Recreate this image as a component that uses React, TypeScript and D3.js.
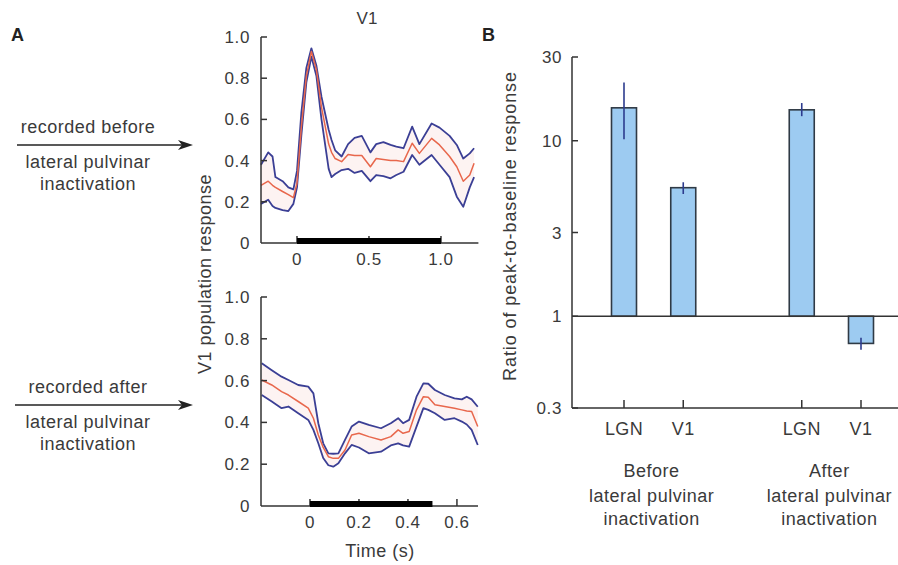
import React from "react";
import * as d3 from "d3";

// ---------- Panel A (top): before inactivation ----------
const topTime = [-0.25, -0.2, -0.17, -0.15, -0.1, -0.06, -0.025, 0, 0.03, 0.065, 0.1, 0.135, 0.17, 0.22, 0.24, 0.265, 0.31, 0.355, 0.4, 0.45, 0.51, 0.55, 0.6, 0.65, 0.69, 0.74, 0.8, 0.85, 0.935, 0.99, 1.06, 1.11, 1.155, 1.2, 1.23];
const topUpper = [0.38, 0.44, 0.42, 0.32, 0.3, 0.27, 0.26, 0.35, 0.63, 0.85, 0.945, 0.86, 0.71, 0.55, 0.5, 0.45, 0.42, 0.48, 0.51, 0.52, 0.44, 0.48, 0.49, 0.476, 0.468, 0.46, 0.565, 0.48, 0.58, 0.56, 0.52, 0.476, 0.41, 0.435, 0.46];
const topMean = [0.28, 0.3, 0.28, 0.27, 0.25, 0.235, 0.22, 0.29, 0.56, 0.81, 0.93, 0.84, 0.66, 0.48, 0.44, 0.41, 0.395, 0.43, 0.425, 0.425, 0.37, 0.41, 0.405, 0.4, 0.4, 0.395, 0.484, 0.435, 0.508, 0.476, 0.42, 0.37, 0.3, 0.33, 0.387];
const topLower = [0.19, 0.21, 0.18, 0.17, 0.16, 0.155, 0.19, 0.27, 0.52, 0.78, 0.905, 0.81, 0.6, 0.36, 0.32, 0.335, 0.354, 0.36, 0.34, 0.35, 0.3, 0.33, 0.325, 0.314, 0.33, 0.346, 0.427, 0.38, 0.427, 0.38, 0.32, 0.225, 0.176, 0.27, 0.32];

// ---------- Panel A (bottom): after inactivation ----------
const botTime = [-0.197, -0.156, -0.116, -0.088, -0.048, -0.007, 0.014, 0.034, 0.054, 0.075, 0.095, 0.116, 0.143, 0.17, 0.2, 0.24, 0.29, 0.33, 0.36, 0.38, 0.405, 0.435, 0.463, 0.483, 0.51, 0.55, 0.59, 0.62, 0.64, 0.66, 0.685];
const botUpper = [0.683, 0.65, 0.619, 0.603, 0.579, 0.571, 0.539, 0.396, 0.3, 0.252, 0.25, 0.252, 0.316, 0.38, 0.404, 0.388, 0.372, 0.396, 0.42, 0.396, 0.412, 0.523, 0.587, 0.585, 0.555, 0.531, 0.515, 0.51, 0.523, 0.51, 0.475];
const botMean = [0.603, 0.579, 0.547, 0.531, 0.5, 0.468, 0.42, 0.34, 0.28, 0.236, 0.228, 0.228, 0.268, 0.34, 0.348, 0.332, 0.316, 0.332, 0.364, 0.348, 0.356, 0.46, 0.523, 0.52, 0.484, 0.476, 0.468, 0.46, 0.455, 0.452, 0.38];
const botLower = [0.531, 0.5, 0.468, 0.476, 0.444, 0.412, 0.364, 0.3, 0.23, 0.195, 0.188, 0.204, 0.252, 0.292, 0.28, 0.252, 0.26, 0.29, 0.3, 0.29, 0.284, 0.38, 0.468, 0.46, 0.444, 0.412, 0.42, 0.404, 0.39, 0.364, 0.292];

const yTicksA = [0, 0.2, 0.4, 0.6, 0.8, 1.0];
const topXTicks = [0, 0.5, 1.0];
const botXTicks = [0, 0.2, 0.4, 0.6];
const topStim = [0, 1.0];
const botStim = [0, 0.5];

// ---------- Panel B ----------
const categories = ["LGN", "V1", "LGN", "V1"];
const groupLabels = ["Before", "After"];
const ratio = [15.4, 5.4, 15.0, 0.7];
const errLow = [10.2, 4.97, 13.8, 0.645];
const errHigh = [21.5, 5.8, 16.4, 0.755];
const logTicks = [0.3, 1, 3, 10, 30];

const FONT = "'Liberation Sans', Arial, Helvetica, sans-serif";
const TXT = "#3a3a3a";
const AX = "#333";
const BLUE = "#3b3f95";
const RED = "#e8674c";

function fmtA(v: number) {
  return v === 0 ? "0" : v.toFixed(1);
}

type PanelProps = {
  time: number[];
  upper: number[];
  mean: number[];
  lower: number[];
  x: d3.ScaleLinear<number, number>;
  y: d3.ScaleLinear<number, number>;
  xTicks: number[];
  stim: number[];
  xFmt: (v: number) => string;
};

function TracePanel({ time, upper, mean, lower, x, y, xTicks, stim, xFmt }: PanelProps) {
  const [x0, x1] = x.range();
  const [y0, y1] = y.range();
  const idx = time.map((_, i) => i);
  const area = d3
    .area<number>()
    .x((i) => x(time[i]))
    .y0((i) => y(lower[i]))
    .y1((i) => y(upper[i]));
  const line = (vals: number[]) =>
    d3
      .line<number>()
      .x((i) => x(time[i]))
      .y((i) => y(vals[i]))(idx) || "";
  return (
    <g>
      <path d={area(idx) || ""} fill="rgba(240,160,150,0.12)" />
      <path d={line(upper)} fill="none" stroke={BLUE} strokeWidth={1.8} strokeLinejoin="round" />
      <path d={line(lower)} fill="none" stroke={BLUE} strokeWidth={1.8} strokeLinejoin="round" />
      <path d={line(mean)} fill="none" stroke={RED} strokeWidth={1.5} strokeLinejoin="round" />
      {/* axes */}
      <line x1={x0} x2={x0} y1={y0} y2={y1} stroke={AX} strokeWidth={1.5} />
      <line x1={x0} x2={x1} y1={y0} y2={y0} stroke={AX} strokeWidth={1.5} />
      {yTicksA.map((v) => (
        <g key={"y" + v}>
          {v > 0 && <line x1={x0} x2={x0 + 6} y1={y(v)} y2={y(v)} stroke={AX} strokeWidth={1.5} />}
          <text x={x0 - 11} y={y(v) + 6} textAnchor="end" fontSize={17} fill={TXT} letterSpacing={0.6}>
            {fmtA(v)}
          </text>
        </g>
      ))}
      {xTicks.map((v) => (
        <g key={"x" + v}>
          <line x1={x(v)} x2={x(v)} y1={y0} y2={y0 - 7} stroke={AX} strokeWidth={1.5} />
          <text x={x(v)} y={y0 + 22} textAnchor="middle" fontSize={17} fill={TXT} letterSpacing={0.6}>
            {xFmt(v)}
          </text>
        </g>
      ))}
      <rect x={x(stim[0])} y={y0 - 5} width={x(stim[1]) - x(stim[0])} height={6} fill="#000" />
    </g>
  );
}

function Arrow({ y, x0, x1, top, bottom }: { y: number; x0: number; x1: number; top: string; bottom: string[] }) {
  const cx = 88;
  return (
    <g>
      <line x1={x0} x2={x1 - 10} y1={y} y2={y} stroke="#222" strokeWidth={1.6} />
      <path d={`M${x1},${y} L${x1 - 15},${y - 5} L${x1 - 11},${y} L${x1 - 15},${y + 5} Z`} fill="#222" />
      <text x={cx} y={y - 12} textAnchor="middle" fontSize={18} fill={TXT} letterSpacing={0.5}>
        {top}
      </text>
      {bottom.map((t, i) => (
        <text key={i} x={cx} y={y + 23 + i * 22} textAnchor="middle" fontSize={18} fill={TXT} letterSpacing={0.5}>
          {t}
        </text>
      ))}
    </g>
  );
}

export default function App() {
  // Panel A scales
  const xTop = d3.scaleLinear().domain([-0.25, 1.26]).range([261, 478.4]);
  const yTop = d3.scaleLinear().domain([0, 1]).range([243, 37]);
  const xBot = d3.scaleLinear().domain([-0.2, 0.686]).range([261, 478]);
  const yBot = d3.scaleLinear().domain([0, 1]).range([506, 297]);

  // Panel B scales
  const yB = d3.scaleLog().domain([0.3, 30]).range([408, 57]);
  const slot = d3.scaleLinear().domain([0, 4]).range([624, 861]);
  const barX = (i: number) => slot(i < 2 ? i : i + 1);
  const barW = 25;
  const axB = 572;

  return (
    <svg
      width={898}
      height={565}
      style={{ position: "absolute", left: 0, top: 0, background: "#fff" }}
      fontFamily={FONT}
    >
      <rect width={898} height={565} fill="#fff" />
      {/* Panel letters */}
      <text x={11} y={41} fontSize={18} fontWeight="bold" fill="#222">A</text>
      <text x={482} y={41} fontSize={18} fontWeight="bold" fill="#222">B</text>

      {/* Arrows */}
      <Arrow y={145} x0={17} x1={193} top="recorded before" bottom={["lateral pulvinar", "inactivation"]} />
      <Arrow y={405} x0={15} x1={193} top="recorded after" bottom={["lateral pulvinar", "inactivation"]} />

      {/* Panel A */}
      <text x={367} y={24} textAnchor="middle" fontSize={17} fill={TXT}>V1</text>
      <TracePanel time={topTime} upper={topUpper} mean={topMean} lower={topLower} x={xTop} y={yTop} xTicks={topXTicks} stim={topStim} xFmt={(v) => (v === 0 ? "0" : v.toFixed(1))} />
      <TracePanel time={botTime} upper={botUpper} mean={botMean} lower={botLower} x={xBot} y={yBot} xTicks={botXTicks} stim={botStim} xFmt={(v) => (v === 0 ? "0" : v.toFixed(1))} />
      <text transform="translate(211,274) rotate(-90)" textAnchor="middle" fontSize={18} fill={TXT} letterSpacing={0.5}>
        V1 population response
      </text>
      <text x={380} y={557} textAnchor="middle" fontSize={18} fill={TXT} letterSpacing={0.5}>
        Time (s)
      </text>

      {/* Panel B */}
      {ratio.map((v, i) => {
        const cx = barX(i);
        const yt = Math.min(yB(v), yB(1));
        const h = Math.abs(yB(v) - yB(1));
        return (
          <g key={"bar" + i}>
            <rect x={cx - barW / 2} y={yt} width={barW} height={h} fill="#9dcbf1" stroke="#2f3a45" strokeWidth={1.6} />
            <line x1={cx} x2={cx} y1={yB(errLow[i])} y2={yB(errHigh[i])} stroke="#2c3b8e" strokeWidth={1.6} />
          </g>
        );
      })}
      <line x1={axB} x2={898} y1={yB(1)} y2={yB(1)} stroke={AX} strokeWidth={1.6} />
      <line x1={axB} x2={axB} y1={yB(0.3)} y2={yB(30)} stroke={AX} strokeWidth={1.5} />
      <line x1={axB} x2={898} y1={yB(0.3)} y2={yB(0.3)} stroke={AX} strokeWidth={1.5} />
      {logTicks.map((v) => (
        <g key={"lt" + v}>
          <line x1={axB} x2={axB + 6} y1={yB(v)} y2={yB(v)} stroke={AX} strokeWidth={1.5} />
          <text x={562} y={yB(v) + 6} textAnchor="end" fontSize={17} fill={TXT} letterSpacing={0.6}>
            {String(v)}
          </text>
        </g>
      ))}
      {categories.map((c, i) => (
        <g key={"cat" + i}>
          <line x1={barX(i)} x2={barX(i)} y1={yB(0.3)} y2={yB(0.3) - 8} stroke={AX} strokeWidth={1.5} />
          <text x={barX(i)} y={435} textAnchor="middle" fontSize={18} fill={TXT} letterSpacing={0.4}>
            {c}
          </text>
        </g>
      ))}
      {groupLabels.map((g, gi) => {
        const cx = (barX(gi * 2) + barX(gi * 2 + 1)) / 2 - 2;
        return (
          <g key={"grp" + gi}>
            <text x={cx} y={477} textAnchor="middle" fontSize={18} fill={TXT} letterSpacing={0.5}>{g}</text>
            <text x={cx} y={502} textAnchor="middle" fontSize={18} fill={TXT} letterSpacing={0.5}>lateral pulvinar</text>
            <text x={cx} y={525} textAnchor="middle" fontSize={18} fill={TXT} letterSpacing={0.5}>inactivation</text>
          </g>
        );
      })}
      <text transform="translate(516,226) rotate(-90)" textAnchor="middle" fontSize={18} fill={TXT} letterSpacing={0.9}>
        Ratio of peak-to-baseline response
      </text>
    </svg>
  );
}
